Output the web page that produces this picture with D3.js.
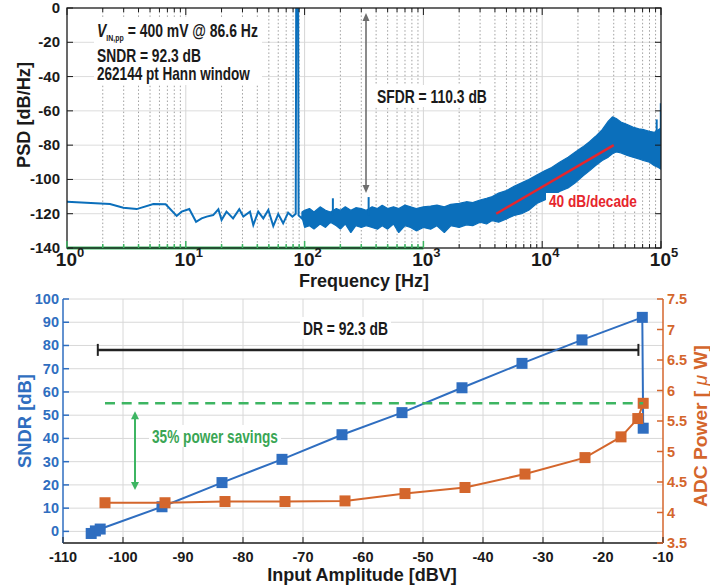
<!DOCTYPE html>
<html>
<head>
<meta charset="utf-8">
<script src="https://cdn.jsdelivr.net/npm/d3@7"></script>
<style>
  body { margin: 0; background: #fff; }
  svg text { font-family: "Liberation Sans", Arial, sans-serif; font-weight: bold; }
</style>
</head>
<body>
<svg id="chart" width="710" height="586"></svg>
<script>
// ---- top panel: output PSD ----
// below ~100 Hz the spectrum is sparse, drawn as a plain line (tone included)
var lowFreq = [1, 2.3, 2.98, 3.86, 5.33, 6.77, 8.38, 9.23, 10.7, 12.2, 13.6, 15, 17, 18.8, 20, 22, 25, 28.2, 30.5, 34.7, 37, 40.7, 44.9, 49.5, 54.5, 60, 66, 72.7, 79, 84.2, 85.0, 88.2, 89.0, 94.6, 97];
var lowPsd = [-113, -114.3, -116.5, -117.3, -114.3, -114.5, -121.3, -118.8, -117.3, -124.7, -122.7, -121.7, -120.8, -117.4, -123.7, -118.8, -122.7, -117.4, -121.7, -118.8, -126.6, -118.8, -122.7, -117.8, -127.2, -120.2, -125.6, -119.4, -121.7, -120, 5, 5, -121, -122.7, -121];

// above ~100 Hz the noise is dense: upper / lower envelope of the blue band
var bandFreq = [95, 100, 110, 120, 135, 150, 165, 185, 200, 220, 245, 270, 300, 330, 370, 410, 450, 500, 560, 620, 700, 780, 870, 1000, 1150, 1300, 1500, 1700, 2000, 2300, 2600, 3000, 3400, 3800, 4300, 5000, 5800, 6700, 7700, 9000, 10500, 12000, 14000, 16500, 19000, 22000, 25000, 28000, 32000, 36000, 39000, 42000, 46000, 52000, 58000, 65000, 72000, 80000, 88000, 95000, 100000];
var bandUpper = [-119, -118, -117, -119, -116, -118, -119, -117, -118, -116, -118, -116.5, -117, -118, -116, -117, -115, -117, -116, -117, -115, -116, -117, -116, -115.5, -115, -116, -114.5, -114, -113, -113.5, -112, -111, -110, -108, -106.5, -104, -102, -100, -97.5, -95, -93, -90, -87, -84, -81, -78, -75, -71, -66, -63.5, -64.5, -66.5, -68, -69.5, -70.5, -71, -72, -72.5, -71, -70];
var bandLower = [-122, -128, -127, -129, -126, -128, -125, -127, -129, -126, -131, -127, -128, -127, -128, -129, -127, -129, -126, -131, -127, -128, -130, -128, -129, -127, -131, -127, -128, -126.5, -127, -125, -126, -124, -125, -123, -121, -120, -118, -114, -112, -110, -107, -105, -102, -98, -95, -92, -89, -87, -85, -84, -84.5, -86, -87, -88, -89, -90, -92, -93, -94];

// narrow spurs sticking out of the floor
var spurFreq = [173, 346, 92000, 99600];
var spurBase = [-121, -121, -80, -78];
var spurTop = [-111, -110.3, -65, -55.6];

// 40 dB/decade guide
var slopeFreq = [4100, 40000];
var slopePsd = [-120, -80];

// signal band marker (green)
var bandEdges = [1, 1000];

// ---- bottom panel: SNDR and power vs input amplitude ----
var sndrIn = [-105.3, -104.6, -103.8, -93.5, -83.5, -73.5, -63.5, -53.5, -43.5, -33.5, -23.5, -13.45, -13.3];
var sndrDb = [-0.9, 0.2, 1.0, 10.6, 21.0, 31.0, 41.6, 51.1, 61.8, 72.3, 82.4, 92.1, 44.4];
var powerIn = [-103, -93, -83, -73, -63, -53, -43, -33, -23, -17, -14.2, -13.3];
var powerUw = [4.16, 4.16, 4.18, 4.18, 4.19, 4.31, 4.41, 4.63, 4.90, 5.24, 5.54, 5.79];

var drRange = [-104.2, -14.1], drLevel = 78.1;
var savingLevel = 5.79, savingFrom = -103, savingTo = -13.3;
var arrowAt = -98, arrowSpan = [5.66, 4.37];

var psdTicks = [-140, -120, -100, -80, -60, -40, -20, 0];
var freqDecades = [1, 10, 100, 1000, 10000, 100000];
var inTicks = [-110, -100, -90, -80, -70, -60, -50, -40, -30, -20, -10];
var sndrTicks = [0, 10, 20, 30, 40, 50, 60, 70, 80, 90, 100];
var powTicks = [3.5, 4, 4.5, 5, 5.5, 6, 6.5, 7, 7.5];

var BLUE = "#0b6fbb", SBLUE = "#2f6ec0", ORANGE = "#d4662c", GREEN = "#3db562", RED = "#e6262d";

var svg = d3.select("#chart");

// text helper: squeezes text horizontally to a target width when given
function label(g, x, y, txt, o) {
  o = o || {};
  var t = g.append("text")
    .attr("font-size", o.size || 14)
    .attr("fill", o.color || "#1a1a1a")
    .attr("text-anchor", o.anchor || "start")
    .text(txt);
  if (o.build) { t.text(null); o.build(t); }
  var s = 1;
  if (o.width) s = o.width / t.node().getComputedTextLength();
  t.attr("transform", "translate(" + x + "," + y + ")" + (o.rotate ? " rotate(" + o.rotate + ")" : "") + " scale(" + s + ",1)");
  return t;
}

// ================= TOP PANEL =================
var tx = d3.scaleLog().domain([1, 1e5]).range([67, 661]);
var ty = d3.scaleLinear().domain([-140, 0]).range([248, 8]);
var gTop = svg.append("g");
svg.append("clipPath").attr("id", "clipTop").append("rect")
  .attr("x", 67).attr("y", 8).attr("width", 594).attr("height", 240);

function isDecade(f) { return Math.abs(Math.log10(f) - Math.round(Math.log10(f))) < 1e-6; }
var allFreqTicks = tx.ticks();

gTop.selectAll(".hg").data(psdTicks.slice(1, -1)).enter().append("line")
  .attr("x1", 67).attr("x2", 661).attr("y1", d => ty(d)).attr("y2", d => ty(d))
  .attr("stroke", "#dcdcdc").attr("stroke-width", 1);
gTop.selectAll(".vg").data(allFreqTicks.filter(f => f > 1 && f < 1e5)).enter().append("line")
  .attr("x1", d => tx(d)).attr("x2", d => tx(d)).attr("y1", 8).attr("y2", 248)
  .attr("stroke", d => isDecade(d) ? "#d6d6d6" : "#a0a0a0")
  .attr("stroke-dasharray", d => isDecade(d) ? null : "1.5,2.2")
  .attr("stroke-width", 1);

var plotTop = gTop.append("g").attr("clip-path", "url(#clipTop)");
var bandData = bandFreq.map((f, i) => ({ f: f, hi: bandUpper[i], lo: bandLower[i] }));
plotTop.append("path").datum(bandData)
  .attr("d", d3.area().x(d => tx(d.f)).y0(d => ty(d.lo)).y1(d => ty(d.hi)))
  .attr("fill", BLUE).attr("stroke", BLUE).attr("stroke-width", 1.2).attr("stroke-linejoin", "bevel");
plotTop.append("path").datum(lowFreq.map((f, i) => [f, lowPsd[i]]))
  .attr("d", d3.line().x(d => tx(d[0])).y(d => ty(d[1])))
  .attr("fill", "none").attr("stroke", BLUE).attr("stroke-width", 2);
plotTop.selectAll(".spur").data(spurFreq).enter().append("line")
  .attr("x1", d => tx(d)).attr("x2", d => tx(d))
  .attr("y1", (d, i) => ty(spurBase[i])).attr("y2", (d, i) => ty(spurTop[i]))
  .attr("stroke", BLUE).attr("stroke-width", 2);
plotTop.append("path").datum(slopeFreq.map((f, i) => [f, slopePsd[i]]))
  .attr("d", d3.line().x(d => tx(d[0])).y(d => ty(d[1])))
  .attr("stroke", RED).attr("stroke-width", 2.5).attr("fill", "none");

// green signal band along the floor
gTop.append("line").attr("x1", tx(bandEdges[0])).attr("x2", tx(bandEdges[1]))
  .attr("y1", ty(-140)).attr("y2", ty(-140)).attr("stroke", GREEN).attr("stroke-width", 3);

// box + ticks
gTop.append("rect").attr("x", 67).attr("y", 8).attr("width", 594).attr("height", 240)
  .attr("fill", "none").attr("stroke", "#1a1a1a").attr("stroke-width", 1.3);
allFreqTicks.forEach(function (f) {
  var len = isDecade(f) ? 7 : 4;
  var inBand = f <= bandEdges[1];
  gTop.append("line").attr("x1", tx(f)).attr("x2", tx(f)).attr("y1", 248).attr("y2", 248 - len)
    .attr("stroke", inBand ? GREEN : "#1a1a1a").attr("stroke-width", inBand ? 1.5 : 1);
  gTop.append("line").attr("x1", tx(f)).attr("x2", tx(f)).attr("y1", 8).attr("y2", 8 + len)
    .attr("stroke", "#1a1a1a").attr("stroke-width", 1);
});
psdTicks.forEach(function (v) {
  gTop.append("line").attr("x1", 67).attr("x2", 73).attr("y1", ty(v)).attr("y2", ty(v)).attr("stroke", "#1a1a1a");
  gTop.append("line").attr("x1", 661).attr("x2", 655).attr("y1", ty(v)).attr("y2", ty(v)).attr("stroke", "#1a1a1a");
  label(gTop, 60, ty(v) + 5, v, { size: 15, anchor: "end" });
});
freqDecades.forEach(function (f) {
  label(gTop, tx(f) + 3, 266, "", {
    size: 19, anchor: "middle",
    build: function (t) {
      t.append("tspan").text("10");
      t.append("tspan").attr("font-size", 13).attr("dy", -9).text(Math.round(Math.log10(f)));
    }
  });
});
label(gTop, 364, 287, "Frequency [Hz]", { size: 19, anchor: "middle", width: 130 });
label(gTop, 30, 115, "PSD [dB/Hz]", { size: 19, anchor: "middle", rotate: -90, width: 106 });

// annotations
gTop.append("rect").attr("x", 94).attr("y", 17).attr("width", 168).attr("height", 68).attr("fill", "#fff");
label(gTop, 97, 37, "", {
  size: 18, width: 161,
  build: function (t) {
    t.append("tspan").attr("font-style", "italic").text("V");
    t.append("tspan").attr("font-size", 9).attr("dy", 4).text("IN,pp");
    t.append("tspan").attr("dy", -4).text(" = 400 mV @ 86.6 Hz");
  }
});
label(gTop, 97, 62, "SNDR = 92.3 dB", { size: 18, width: 104 });
label(gTop, 97, 80, "262144 pt Hann window", { size: 18, width: 153 });

gTop.append("rect").attr("x", 375).attr("y", 85).attr("width", 114).attr("height", 22).attr("fill", "#fff");
label(gTop, 377, 103, "SFDR = 110.3 dB", { size: 19, width: 110 });

gTop.append("rect").attr("x", 546).attr("y", 193).attr("width", 94).attr("height", 17).attr("fill", "#fff");
label(gTop, 549, 207, "40 dB/decade", { size: 16, width: 88, color: RED });

// SFDR arrow
var ax = 366, aTop = ty(0) + 5, aBot = ty(-110.3) - 4;
gTop.append("line").attr("x1", ax).attr("x2", ax).attr("y1", aTop + 6).attr("y2", aBot - 6)
  .attr("stroke", "#6e6e6e").attr("stroke-width", 1.6);
gTop.append("path").attr("d", "M" + (ax - 3.5) + "," + (aTop + 8) + "L" + ax + "," + aTop + "L" + (ax + 3.5) + "," + (aTop + 8) + "Z").attr("fill", "#6e6e6e");
gTop.append("path").attr("d", "M" + (ax - 3.5) + "," + (aBot - 8) + "L" + ax + "," + aBot + "L" + (ax + 3.5) + "," + (aBot - 8) + "Z").attr("fill", "#6e6e6e");

// ================= BOTTOM PANEL =================
var bx = d3.scaleLinear().domain([-110, -10]).range([63, 663]);
var byL = d3.scaleLinear().domain([-5, 100]).range([543, 299]);
var byR = d3.scaleLinear().domain([3.5, 7.5]).range([543, 299]);
var gBot = svg.append("g");

gBot.selectAll(".hg").data(sndrTicks).enter().append("line")
  .attr("x1", 63).attr("x2", 663).attr("y1", d => byL(d)).attr("y2", d => byL(d))
  .attr("stroke", "#d8d8d8");
gBot.selectAll(".vg").data(inTicks.slice(1, -1)).enter().append("line")
  .attr("x1", d => bx(d)).attr("x2", d => bx(d)).attr("y1", 299).attr("y2", 543)
  .attr("stroke", "#d8d8d8");

// DR bar
gBot.append("line").attr("x1", bx(drRange[0])).attr("x2", bx(drRange[1]))
  .attr("y1", byL(drLevel)).attr("y2", byL(drLevel)).attr("stroke", "#222").attr("stroke-width", 2.5);
drRange.forEach(function (v) {
  gBot.append("line").attr("x1", bx(v)).attr("x2", bx(v))
    .attr("y1", byL(drLevel) - 6).attr("y2", byL(drLevel) + 6).attr("stroke", "#222").attr("stroke-width", 2);
});

// SNDR
gBot.append("path").datum(sndrIn.map((v, i) => [v, sndrDb[i]]))
  .attr("d", d3.line().x(d => bx(d[0])).y(d => byL(d[1])))
  .attr("fill", "none").attr("stroke", SBLUE).attr("stroke-width", 2);
gBot.selectAll(".sq").data(sndrIn).enter().append("rect")
  .attr("x", d => bx(d) - 5.5).attr("y", (d, i) => byL(sndrDb[i]) - 5.5)
  .attr("width", 11).attr("height", 11).attr("fill", SBLUE);

// power
gBot.append("path").datum(powerIn.map((v, i) => [v, powerUw[i]]))
  .attr("d", d3.line().x(d => bx(d[0])).y(d => byR(d[1])))
  .attr("fill", "none").attr("stroke", ORANGE).attr("stroke-width", 2);
gBot.selectAll(".pq").data(powerIn).enter().append("rect")
  .attr("x", d => bx(d) - 5.5).attr("y", (d, i) => byR(powerUw[i]) - 5.5)
  .attr("width", 11).attr("height", 11).attr("fill", ORANGE);

// power savings
gBot.append("line").attr("x1", bx(savingFrom)).attr("x2", bx(savingTo))
  .attr("y1", byR(savingLevel)).attr("y2", byR(savingLevel))
  .attr("stroke", GREEN).attr("stroke-width", 2.5).attr("stroke-dasharray", "10,6.7");
var gx = bx(arrowAt), gy1 = byR(arrowSpan[0]), gy2 = byR(arrowSpan[1]);
gBot.append("line").attr("x1", gx).attr("x2", gx).attr("y1", gy1 + 6).attr("y2", gy2 - 6)
  .attr("stroke", GREEN).attr("stroke-width", 2);
gBot.append("path").attr("d", "M" + (gx - 4) + "," + (gy1 + 8) + "L" + gx + "," + gy1 + "L" + (gx + 4) + "," + (gy1 + 8) + "Z").attr("fill", GREEN);
gBot.append("path").attr("d", "M" + (gx - 4) + "," + (gy2 - 8) + "L" + gx + "," + gy2 + "L" + (gx + 4) + "," + (gy2 - 8) + "Z").attr("fill", GREEN);

// axes
gBot.append("line").attr("x1", 63).attr("x2", 663).attr("y1", 543).attr("y2", 543).attr("stroke", "#1a1a1a").attr("stroke-width", 1.5);
gBot.append("line").attr("x1", 63).attr("x2", 63).attr("y1", 299).attr("y2", 543).attr("stroke", SBLUE).attr("stroke-width", 1.5);
gBot.append("line").attr("x1", 663).attr("x2", 663).attr("y1", 299).attr("y2", 543).attr("stroke", ORANGE).attr("stroke-width", 1.5);
inTicks.forEach(function (v) {
  gBot.append("line").attr("x1", bx(v)).attr("x2", bx(v)).attr("y1", 543).attr("y2", 537).attr("stroke", "#1a1a1a");
  label(gBot, bx(v), 562, v, { size: 14.5, anchor: "middle" });
});
sndrTicks.forEach(function (v) {
  gBot.append("line").attr("x1", 63).attr("x2", 69).attr("y1", byL(v)).attr("y2", byL(v)).attr("stroke", SBLUE).attr("stroke-width", 1.5);
  label(gBot, 59, byL(v) + 5, v, { size: 14.5, anchor: "end", color: SBLUE });
});
powTicks.forEach(function (v) {
  gBot.append("line").attr("x1", 663).attr("x2", 657).attr("y1", byR(v)).attr("y2", byR(v)).attr("stroke", ORANGE).attr("stroke-width", 1.5);
  label(gBot, 667, byR(v) + 5, v, { size: 14.5, color: ORANGE });
});
label(gBot, 362, 581, "Input Amplitude [dBV]", { size: 19, anchor: "middle", width: 190 });
label(gBot, 31, 421, "SNDR [dB]", { size: 19, anchor: "middle", rotate: -90, width: 94, color: SBLUE });
label(gBot, 707, 426, "", {
  size: 19, anchor: "middle", rotate: -90, width: 162, color: ORANGE,
  build: function (t) {
    t.append("tspan").text("ADC Power [ ");
    t.append("tspan").attr("font-style", "italic").attr("font-weight", "normal").text("\u03bc");
    t.append("tspan").text(" W]");
  }
});

// annotations
gBot.append("rect").attr("x", 300).attr("y", 317).attr("width", 91).attr("height", 22).attr("fill", "#fff");
label(gBot, 303, 335, "DR = 92.3 dB", { size: 19, width: 85 });
gBot.append("rect").attr("x", 149).attr("y", 425).attr("width", 132).attr("height", 22).attr("fill", "#fff");
label(gBot, 152, 443, "35% power savings", { size: 19, width: 126, color: "#3aa655" });
</script>
</body>
</html>
